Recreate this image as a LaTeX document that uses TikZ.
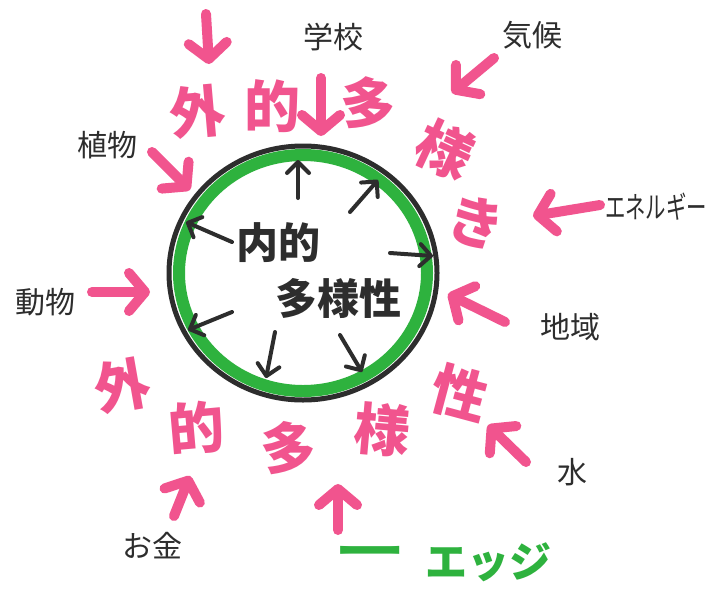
\documentclass[tikz,border=0pt]{standalone}
\usepackage{fontspec}
\newfontfamily\jp{Noto Sans CJK JP}
\usetikzlibrary{arrows.meta,shapes.geometric}
\definecolor{pinkm}{RGB}{241,84,142}
\definecolor{greenm}{RGB}{46,178,62}
\definecolor{inkm}{RGB}{45,45,45}
\tikzset{
  pinkarrow/.style={draw=pinkm, line width=10pt, line cap=round,
    -{Straight Barb[length=16pt,width=38pt,round]}},
  inkarrow/.style={draw=inkm, line width=4pt, line cap=round,
    -{Straight Barb[length=11pt,width=22pt,round]}},
  pinkchar/.style={text=pinkm, font=\jp\bfseries\fontsize{56}{56}\selectfont, inner sep=0pt},
  labeltext/.style={text=inkm, font=\jp\fontsize{30}{30}\selectfont, inner sep=0pt},
  centertext/.style={text=inkm, font=\jp\bfseries\fontsize{42}{42}\selectfont, inner sep=0pt},
  greentext/.style={text=greenm, font=\jp\bfseries\fontsize{42}{42}\selectfont, inner sep=0pt},
}
\begin{document}
\begin{tikzpicture}[x=1pt,y=-1pt]
\useasboundingbox[fill=white] (0,0) rectangle (714,592);

% circle
\node[draw=greenm, line width=12pt, ellipse, minimum width=248pt, minimum height=236pt, inner sep=0pt] (inner) at (303,273) {};
\node[draw=inkm, line width=5pt, ellipse, minimum width=268pt, minimum height=254pt, inner sep=0pt] (circ) at (303,273) {};

% center text
\node[centertext] (naiteki) at (278,243) {内的};
\node[centertext] (tayousei) at (338,298) {多様性};

% inner arrows
\coordinate (i1s) at (298,198); \coordinate (i1e) at (298,160);
\coordinate (i2s) at (350,212); \coordinate (i2e) at (378,180);
\coordinate (i3s) at (390,253); \coordinate (i3e) at (433,256);
\coordinate (i4s) at (232,242); \coordinate (i4e) at (186,222);
\coordinate (i5s) at (232,312); \coordinate (i5e) at (188,330);
\coordinate (i6s) at (275,332); \coordinate (i6e) at (266,378);
\coordinate (i7s) at (340,335); \coordinate (i7e) at (362,372);
\foreach \k in {1,...,7} \draw[inkarrow] (i\k s) -- (i\k e);

% pink characters, top arc
\node[pinkchar, rotate=5] (t1) at (198,112) {外};
\node[pinkchar] (t2) at (272,106) {的};
\node[pinkchar, rotate=-5] (t3) at (368,104) {多};
\node[pinkchar, rotate=-25] (t4) at (445,150) {様};
\node[pinkchar, rotate=-15] (t5) at (476,222) {き};

% pink characters, bottom arc
\node[pinkchar, rotate=10] (b1) at (122,386) {外};
\node[pinkchar, rotate=5] (b2) at (197,428) {的};
\node[pinkchar] (b3) at (288,448) {多};
\node[pinkchar, rotate=-5] (b4) at (382,430) {様};
\node[pinkchar, rotate=-15] (b5) at (460,393) {性};

% labels
\node[labeltext] (gakkou) at (333,37) {学校};
\node[labeltext] (kikou) at (532,35) {気候};
\node[labeltext] (shokubutsu) at (107,145) {植物};
\node[labeltext, xscale=0.68] (energy) at (656,207) {エネルギー};
\node[labeltext] (doubutsu) at (45,302) {動物};
\node[labeltext] (chiiki) at (570,327) {地域};
\node[labeltext] (mizu) at (572,472) {水};
\node[labeltext] (okane) at (152,546) {お金};

% green edge label
\node[greentext, xscale=1.7] (dash) at (370,556) {ー};
\node[greentext] (edge) at (488,562) {エッジ};

% pink arrows
\coordinate (p1s) at (206,14);  \coordinate (p1e) at (209,64);
\coordinate (p2s) at (321,78);  \coordinate (p2e) at (321,136);
\coordinate (p3s) at (494,58);  \coordinate (p3e) at (452,93);
\coordinate (p4s) at (152,152); \coordinate (p4e) at (190,190);
\coordinate (p5s) at (600,205); \coordinate (p5e) at (533,216);
\coordinate (p6s) at (92,292);  \coordinate (p6e) at (150,292);
\coordinate (p7s) at (505,322); \coordinate (p7e) at (448,294);
\coordinate (p8s) at (526,462); \coordinate (p8e) at (488,425);
\coordinate (p9s) at (174,516); \coordinate (p9e) at (190,476);
\coordinate (p10s) at (338,530); \coordinate (p10e) at (338,484);
\foreach \k in {1,...,10} \draw[pinkarrow] (p\k s) -- (p\k e);
\end{tikzpicture}
\end{document}
